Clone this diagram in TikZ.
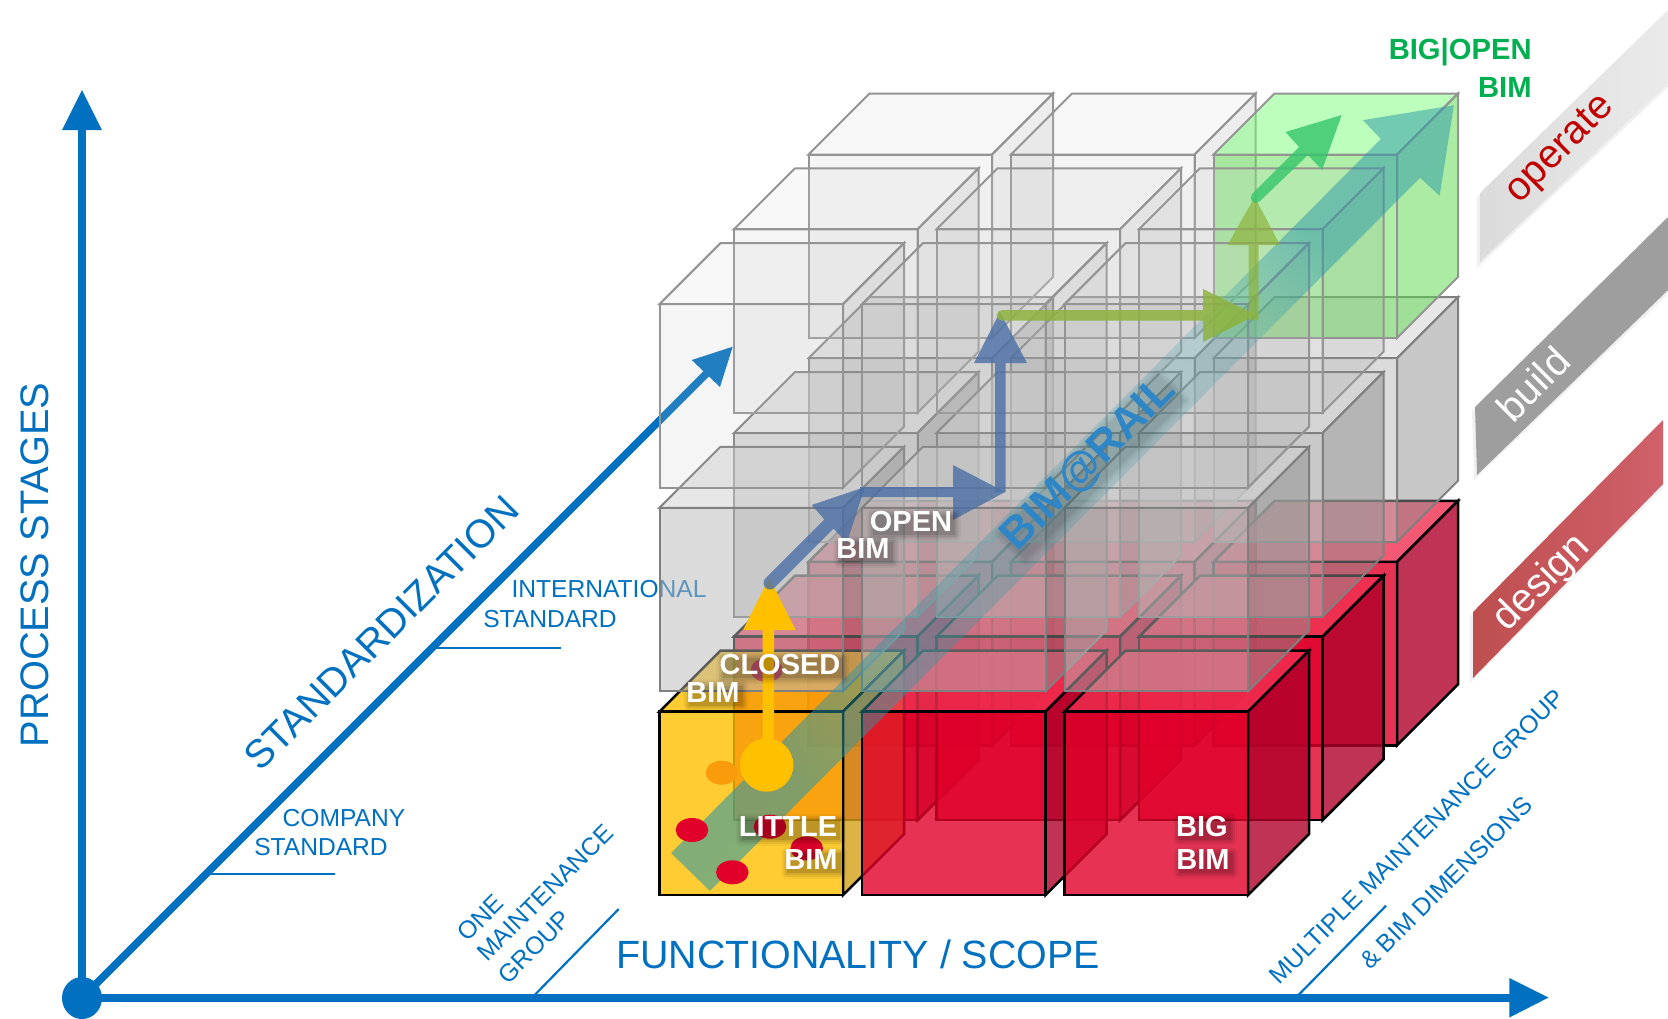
\documentclass[tikz,border=0pt]{standalone}
\usepackage{fontspec}
\setmainfont{Liberation Sans}
\usetikzlibrary{fadings}
\definecolor{axisblue}{HTML}{0070C0}
\definecolor{bandblue}{HTML}{2E86C6}
\definecolor{banda}{HTML}{2A80B0}
\definecolor{bandb}{HTML}{2A80B9}
\definecolor{bandc}{HTML}{2AB0A0}
\definecolor{dotcol}{HTML}{E0002A}
\definecolor{dotorange}{HTML}{F99B0A}
\definecolor{red0f}{HTML}{E0002A}\definecolor{red0t}{HTML}{F03050}\definecolor{red0s}{HTML}{B0002A}
\definecolor{gold0f}{HTML}{FFC000}\definecolor{gold0s}{HTML}{D4A017}
\definecolor{gray1f}{HTML}{B9B9B9}\definecolor{gray1t}{HTML}{D0D0D0}\definecolor{gray1s}{HTML}{919191}
\definecolor{gray2f}{HTML}{C4C4C4}\definecolor{gray2t}{HTML}{D6D6D6}\definecolor{gray2s}{HTML}{959595}
\definecolor{green2f}{HTML}{60E050}\definecolor{green2t}{HTML}{7BFF7B}\definecolor{green2s}{HTML}{5BD94B}
\definecolor{routeb}{HTML}{4A6FA5}\definecolor{routeo}{HTML}{8DB33E}\definecolor{routeg}{HTML}{35C56A}
\definecolor{bigg}{HTML}{00B050}\definecolor{opred}{HTML}{C00000}
\definecolor{desa}{HTML}{BE4F4F}\definecolor{desb}{HTML}{D0606A}
\pgfdeclarehorizontalshading{bandmask}{100bp}{color(0bp)=(transparent!40); color(37.5bp)=(transparent!42); color(45bp)=(transparent!68); color(50bp)=(transparent!78); color(57.5bp)=(transparent!78); color(61.25bp)=(transparent!50); color(100bp)=(transparent!50)}
\begin{tikzfadingfrompicture}[name=bandfade]
  \shade[shading=bandmask] (-50bp,-50bp) rectangle (50bp,50bp);
\end{tikzfadingfrompicture}
\tikzset{
  x=0.5pt,y=-0.5pt,
  edgeK/.style={draw=black,line width=1.25pt,line join=miter},
  edgeG/.style={draw=black!50,line width=1pt,line join=miter},
  edgeW/.style={draw=black!42,line width=1pt,line join=miter},
  redf/.style={edgeK,fill=red0f,fill opacity=.8}, redt/.style={edgeK,fill=red0t,fill opacity=.8}, reds/.style={edgeK,fill=red0s,fill opacity=.8},
  goldf/.style={edgeK,fill=gold0f,fill opacity=.8}, goldt/.style={edgeK,fill=gold0f,fill opacity=.8}, golds/.style={edgeK,fill=gold0s,fill opacity=.8},
  grayf/.style={edgeG,fill=gray1f,fill opacity=.5}, grayt/.style={edgeG,fill=gray1t,fill opacity=.5}, grays/.style={edgeG,fill=gray1s,fill opacity=.5},
  whitef/.style={edgeW,fill=gray2f,fill opacity=.17}, whitet/.style={edgeW,fill=gray2t,fill opacity=.17}, whites/.style={edgeW,fill=gray2s,fill opacity=.17},
  greenf/.style={edgeW,fill=green2f,fill opacity=.5}, greent/.style={edgeW,fill=green2t,fill opacity=.5}, greens/.style={edgeW,fill=green2s,fill opacity=.5},
  lbl/.style={inner sep=0pt,text=axisblue},
  wbold/.style={inner sep=0pt,text=white,font=\bfseries\fontsize{14.5}{16}\selectfont},
  railtext/.style={inner sep=0pt,text=bandblue,rotate=45,font=\bfseries\fontsize{22}{24}\selectfont},
  dotred/.style={fill=dotcol},
}
\newcommand\bimcube[4]{%
  \pgfmathsetmacro\xa{659.5+202.5*#1+74.5*#2}%
  \pgfmathsetmacro\yb{895-203.7*#3-74.8*#2}%
  \pgfmathsetmacro\xb{\xa+183.5}%
  \pgfmathsetmacro\yt{\yb-183.5}%
  \pgfmathsetmacro\xc{\xa+61}\pgfmathsetmacro\xd{\xb+61}%
  \pgfmathsetmacro\yc{\yt-61}\pgfmathsetmacro\ye{\yb-61}%
  \path[#4t] (\xa,\yt) -- (\xc,\yc) -- (\xd,\yc) -- (\xb,\yt) -- cycle;
  \path[#4s] (\xb,\yt) -- (\xd,\yc) -- (\xd,\ye) -- (\xb,\yb) -- cycle;
  \path[#4f] (\xa,\yb) rectangle (\xb,\yt);
}
\newcommand\softlabel[6]{% x y name style text haze-strength
  \foreach \kk/\oo in {0/.13,1/.1,2/.08,3/.05}{%
    \pgfmathsetmacro\op{\oo*#6}%
    \path ({#1+3},{#2+3}) node[#4,fill=black,fill opacity=\op,inner sep=\kk pt,rounded corners=\kk pt] {\phantom{#5}};}
  \node[#4] (#3) at (#1,#2) {#5};
}
\begin{document}
\begin{tikzpicture}
\useasboundingbox (0,0) rectangle (1668,1018);
\fill[white] (0,0) rectangle (1668,1018);
% stripes
\fill[black,opacity=.06] (1477,197) -- (1668,12) -- (1668,87) -- (1477,268) -- cycle;
\shade[left color=black!14,right color=black!8] (1480,193) -- (1668,10) -- (1668,83) -- (1480,262) -- cycle;
\fill[black,opacity=.06] (1472,411) -- (1668,222) -- (1668,294) -- (1474,480) -- cycle;
\fill[black!38] (1475,407) -- (1668,217) -- (1668,290) -- (1477,475) -- cycle;
\fill[black,opacity=.06] (1470,616) -- (1663,425) -- (1663,488) -- (1470,683) -- cycle;
\shade[left color=desa,right color=desb] (1473,612) -- (1663,420) -- (1663,484) -- (1473,678) -- cycle;
% ticks
\draw[axisblue,line width=1.1pt] (209,874) -- (335.4,874);
\draw[axisblue,line width=1.1pt] (436.7,647.7) -- (561,647.7);
\draw[axisblue,line width=1.1pt] (533.7,996) -- (618.7,909);
\draw[axisblue,line width=1.1pt] (1297.5,996) -- (1386,905.7);
% axes
\draw[axisblue,line width=4pt] (82,998) -- (82,128);
\fill[axisblue] (82,90) -- (102,130) -- (62,130) -- cycle;
\draw[axisblue,line width=4pt] (82,998) -- (1512,998);
\fill[axisblue] (1548.5,997.5) -- (1509.4,1017.5) -- (1509.4,978) -- cycle;
\draw[axisblue,line width=3.8pt] (82,998) -- (708,372);
\fill[axisblue] (732.7,346.7) -- (720,387) -- (691.7,360) -- cycle;
\fill[axisblue] (82,998) ellipse (20 and 21);
% axis labels
\node[lbl,rotate=90,font=\fontsize{19.9}{24}\selectfont] (process) at (35,565) {PROCESS STAGES};
\node[lbl,font=\fontsize{19.7}{24}\selectfont] (func) at (858,954) {FUNCTIONALITY / SCOPE};
\node[lbl,rotate=45,font=\fontsize{19.8}{24}\selectfont] (std) at (381.5,633) {STANDARDIZATION};
\node[lbl,font=\fontsize{12.3}{14}\selectfont] (comp1) at (344,818) {COMPANY};
\node[lbl,font=\fontsize{12.3}{14}\selectfont] (comp2) at (321,847.5) {STANDARD};
\node[lbl,font=\fontsize{12.3}{14}\selectfont] (intl1) at (609,589) {INTERNATIONAL};
\node[lbl,font=\fontsize{12.3}{14}\selectfont] (intl2) at (550,619) {STANDARD};
\node[lbl,rotate=45,font=\fontsize{12.4}{14}\selectfont] (one1) at (480.6,917.7) {ONE};
\node[lbl,rotate=45,font=\fontsize{12.4}{14}\selectfont] (one2) at (545,893) {MAINTENANCE};
\node[lbl,rotate=45,font=\fontsize{12.4}{14}\selectfont] (one3) at (534.4,947) {GROUP};
\node[lbl,rotate=45,font=\fontsize{12.4}{14}\selectfont] (mult1) at (1417,836.5) {MULTIPLE MAINTENANCE GROUP};
\node[lbl,rotate=45,font=\fontsize{12.4}{14}\selectfont] (mult2) at (1446,883) {\& BIM DIMENSIONS};
% level 0
\foreach \j in {2,1}{\foreach \i in {0,1,2}{\bimcube{\i}{\j}{0}{red}}}
\bimcube{0}{0}{0}{gold}
\bimcube{1}{0}{0}{red}
\bimcube{2}{0}{0}{red}
\fill[dotred] (766.7,670) ellipse (16 and 12);
\fill[dotorange] (721.7,772.7) ellipse (16 and 12);
% level 1
\foreach \j in {2,1,0}{\foreach \i in {0,1,2}{\bimcube{\i}{\j}{1}{gray}}}
% level 2
\foreach \j in {2,1,0}{\foreach \i in {0,1,2}{%
  \ifnum\i=2 \ifnum\j=2 \bimcube{\i}{\j}{2}{green}\else\bimcube{\i}{\j}{2}{white}\fi\else\bimcube{\i}{\j}{2}{white}\fi}}
% BIM@RAIL band
\shade[left color=banda,middle color=bandb,right color=bandc,shading angle=45,path fading=bandfade,fading angle=45] (669,849) -- (1382.6,131) -- (1364.5,112) -- (1456,97) -- (1441.7,188) -- (1422,170) -- (708,887) -- cycle;
% yellow
\fill[gold0f,nonzero rule] (762.7,770) -- (762.7,630) -- (743,630) -- (769.3,578) -- (795.7,630) -- (774,630) -- (774,770) -- cycle (766.7,765) circle (26.7);
% route
\fill[routeb,fill opacity=.8,nonzero rule]
  (765.4,578.4) -- (824.4,519.4) -- (811.7,505) -- (865,487) -- (846.7,543) -- (833.6,528.6) -- (774.6,587.6) -- cycle (770,583) circle (6.5);
\fill[routeb,fill opacity=.8] (860,487) -- (953,487) -- (953,465) -- (1005,492) -- (953,520) -- (953,497) -- (860,497) -- cycle;
\fill[routeb,fill opacity=.8,nonzero rule] (995,492) -- (995,363) -- (974,363) -- (1000,312) -- (1027,363) -- (1005.5,363) -- (1005.5,492) -- cycle;
\fill[routeo,fill opacity=.85,nonzero rule] (1002,310) -- (1203,310) -- (1203,289) -- (1256,315) -- (1203,342) -- (1203,320.7) -- (1002,320.7) -- cycle (1002,315.3) circle (5.3);
\fill[routeo,fill opacity=.7] (1248.5,320) -- (1248.5,245) -- (1227.5,245) -- (1254.7,197) -- (1280,245) -- (1258.7,245) -- (1258.7,320) -- cycle;
\fill[routeg,fill opacity=.8,nonzero rule] (1252,194) -- (1299,147) -- (1285.5,132) -- (1341.7,115) -- (1322,170) -- (1308,155) -- (1259.5,201.5) -- cycle (1255.8,197.7) circle (5.2);
% dots
\fill[dotred] (692,830) ellipse (16.3 and 12);
\fill[dotred] (732.3,872.3) ellipse (16.3 and 12);
\fill[dotred] (770,826.7) ellipse (16.3 and 12);
\fill[dotred] (806.7,848.3) ellipse (16.3 and 12);
% texts
\softlabel{788}{827}{little}{wbold}{LITTLE}{.8}
\softlabel{811}{860}{littleb}{wbold}{BIM}{.8}
\softlabel{780}{665}{closed}{wbold}{CLOSED}{.8}
\softlabel{713}{692.7}{closedb}{wbold}{BIM}{.8}
\softlabel{911}{522}{open}{wbold}{OPEN}{.8}
\softlabel{863}{549}{openb}{wbold}{BIM}{.8}
\softlabel{1202}{826.3}{big}{wbold}{BIG}{.8}
\softlabel{1203}{860}{bigb}{wbold}{BIM}{.8}
\softlabel{1089}{464}{rail}{railtext}{BIM@RAIL}{.35}
\node[inner sep=0pt,text=bigg,anchor=east,font=\bfseries\fontsize{14.6}{16}\selectfont] (bigopen) at (1532,52) {BIG|OPEN};
\node[inner sep=0pt,text=bigg,anchor=east,font=\bfseries\fontsize{14.6}{16}\selectfont] (bigopenb) at (1532,87) {BIM};
\node[inner sep=0pt,text=opred,rotate=45,font=\fontsize{20}{24}\selectfont] (operate) at (1561,150) {operate};
\node[inner sep=0pt,text=white,rotate=45,font=\fontsize{20}{24}\selectfont] (build) at (1533,384) {build};
\node[inner sep=0pt,text=white,rotate=45,font=\fontsize{20}{24}\selectfont] (design) at (1542,583) {design};
\end{tikzpicture}
\end{document}
